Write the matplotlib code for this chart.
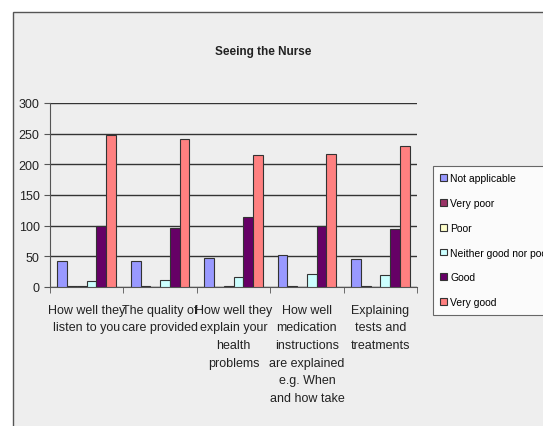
import matplotlib.pyplot as plt
import numpy as np
from matplotlib.patches import Rectangle

plt.rcParams["font.family"] = ["Liberation Sans", "DejaVu Sans"]

# Data
categories = [
    "How well they\nlisten to you",
    "The quality of\ncare provided",
    "How well they\nexplain your\nhealth\nproblems",
    "How well\nmedication\ninstructions\nare explained\ne.g. When\nand how take",
    "Explaining\ntests and\ntreatments",
]
series_names = ["Not applicable", "Very poor", "Poor", "Neither good nor poor", "Good", "Very good"]
not_applicable = [42, 42, 48, 52, 46]
very_poor = [1, 2, 0, 2, 2]
poor = [1, 0, 2, 0, 0]
neither = [9, 11, 17, 21, 19]
good = [100, 96, 114, 100, 94]
very_good = [248, 242, 215, 217, 230]
series = [not_applicable, very_poor, poor, neither, good, very_good]
colors = ["#9999FF", "#993366", "#FFFFCC", "#CCFFFF", "#660066", "#FF8080"]

bg = "#EEEEEE"
fig = plt.figure(figsize=(5.43, 4.27), dpi=100)
fig.patch.set_facecolor("white")

# outer chart frame (runs off the right/bottom edge)
frame = Rectangle((13 / 543, -0.05), 1.0, (427 - 13) / 427 + 0.05,
                  transform=fig.transFigure, facecolor=bg,
                  edgecolor="#555555", lw=1, zorder=-10)
fig.patches.append(frame)

ax = fig.add_axes([50 / 543, 1 - 288 / 427, 367 / 543, 184 / 427])
ax.set_facecolor(bg)

x = np.arange(len(categories))
bar_w = 0.8 / 6
for i, (vals, c, name) in enumerate(zip(series, colors, series_names)):
    ax.bar(x - 0.4 + bar_w * (i + 0.5), vals, bar_w, color=c,
           edgecolor="#333333", linewidth=0.8, label=name, zorder=3)

ax.set_xlim(-0.5, len(categories) - 0.5)
ax.set_ylim(0, 300)
ax.set_yticks(range(0, 301, 50))
ax.yaxis.grid(True, color="#333333", lw=1, zorder=1)
ax.set_xticks(x)
ax.set_xticklabels(categories, fontsize=9, color="#222222", linespacing=1.63)
ax.tick_params(axis="x", length=0, pad=12)
ax.set_xticks(np.arange(-0.5, len(categories)), minor=True)
ax.tick_params(axis="x", which="minor", length=4, color="#555555")
ax.tick_params(axis="y", length=4, color="#555555", labelsize=9, labelcolor="#222222")
for s in ["top", "right"]:
    ax.spines[s].set_visible(False)
ax.spines["left"].set_color("#555555")
ax.spines["bottom"].set_color("#555555")

fig.text(263 / 543, 1 - 52 / 427, "Seeing the Nurse", ha="center", va="center",
         fontsize=8.5, fontweight="bold", color="#222222")

leg = fig.legend(loc="upper left", bbox_to_anchor=(433 / 543, 1 - 167 / 427),
                 borderaxespad=0, fontsize=7.5, frameon=True, fancybox=False,
                 edgecolor="#444444", facecolor="white", handlelength=0.6,
                 handleheight=0.6, handletextpad=0.35, labelspacing=1.42,
                 borderpad=0.7)
leg.get_frame().set_linewidth(0.8)

fig.savefig("out.png", dpi=100, facecolor=fig.get_facecolor())
